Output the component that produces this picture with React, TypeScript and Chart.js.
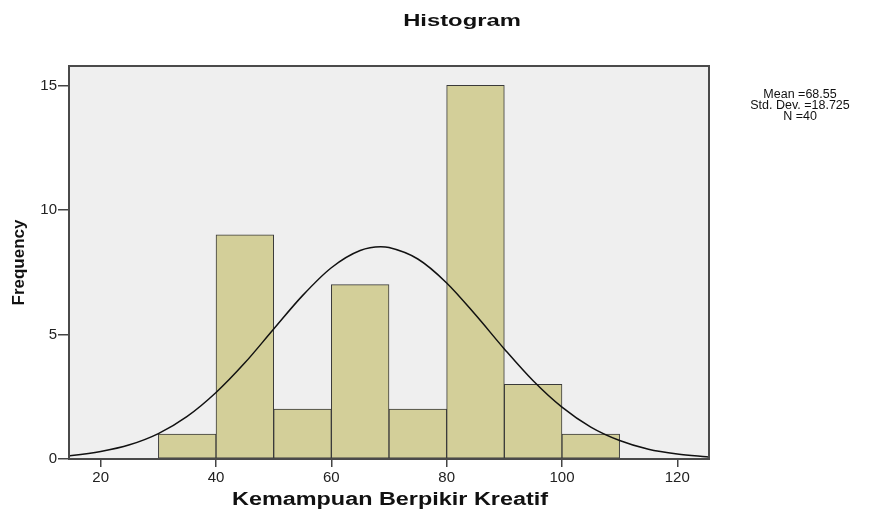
import React, { useEffect, useRef } from "react";
import { Chart, registerables } from "chart.js";

Chart.register(...registerables);

const BIN_CENTERS = [35, 45, 55, 65, 75, 85, 95, 105];
const FREQUENCIES = [1, 9, 2, 7, 2, 15, 3, 1];
const CURVE_X = [14.5, 15, 20, 25, 30, 35, 40, 45, 50, 55, 60, 65, 68.55, 70, 75, 80, 85, 90, 95, 100, 105, 110, 115, 120, 125, 125.5];
const CURVE_Y = [0.13, 0.14, 0.3, 0.57, 1.02, 1.71, 2.67, 3.86, 5.22, 6.56, 7.68, 8.37, 8.52, 8.49, 8.03, 7.07, 5.79, 4.42, 3.14, 2.08, 1.28, 0.74, 0.39, 0.2, 0.09, 0.08];
const X_TICKS = [20, 40, 60, 80, 100, 120];
const Y_TICKS = [0, 5, 10, 15];
const STATS_LINES = ["Mean =68.55", "Std. Dev. =18.725", "N =40"];
const TITLE = "Histogram";
const X_TITLE = "Kemampuan Berpikir Kreatif";
const Y_TITLE = "Frequency";

const FONT = "'Liberation Sans', Arial, sans-serif";

function drawText(ctx: CanvasRenderingContext2D, text: string, cx: number, cy: number, font: string, sx: number, rot = 0) {
  ctx.save();
  ctx.translate(cx, cy);
  if (rot) ctx.rotate(rot);
  ctx.scale(sx, 1);
  ctx.font = font;
  ctx.fillStyle = "#111";
  ctx.textAlign = "center";
  ctx.textBaseline = "middle";
  ctx.fillText(text, 0, 0);
  ctx.restore();
}

const decoPlugin = {
  id: "deco",
  beforeDatasetsDraw(chart: any) {
    const { ctx, chartArea } = chart;
    const { left, top, right, bottom } = chartArea;
    ctx.save();
    ctx.fillStyle = "#efefef";
    ctx.fillRect(left, top, right - left, bottom - top);
    ctx.restore();
  },
  afterDatasetsDraw(chart: any) {
    const { ctx, chartArea } = chart;
    const { left, top, right, bottom } = chartArea;
    ctx.save();
    ctx.strokeStyle = "#4a4a4a";
    ctx.lineWidth = 2;
    ctx.strokeRect(left, top, right - left, bottom - top);
    ctx.restore();
  },
  afterDraw(chart: any) {
    const { ctx, chartArea } = chart;
    drawText(ctx, TITLE, 462, 21, `bold 17px ${FONT}`, 1.4);
    drawText(ctx, X_TITLE, (chartArea.left + chartArea.right) / 2 + 1, 500, `bold 18px ${FONT}`, 1.3);
    drawText(ctx, Y_TITLE, 19, (chartArea.top + chartArea.bottom) / 2, `bold 17px ${FONT}`, 1, -Math.PI / 2);
    STATS_LINES.forEach((line, i) => {
      drawText(ctx, line, 800, 95 + i * 11, `12.5px ${FONT}`, 1);
    });
  },
};

export default function App() {
  const ref = useRef<HTMLCanvasElement | null>(null);

  useEffect(() => {
    if (!ref.current) return;
    const chart = new Chart(ref.current, {
      type: "bar",
      data: {
        datasets: [
          {
            type: "line",
            label: "Normal",
            data: CURVE_X.map((x, i) => ({ x, y: CURVE_Y[i] })),
            borderColor: "#111",
            borderWidth: 1.5,
            pointRadius: 0,
            fill: false,
            cubicInterpolationMode: "monotone",
            order: 0,
          } as any,
          {
            type: "bar",
            label: "Frequency",
            data: BIN_CENTERS.map((x, i) => ({ x, y: FREQUENCIES[i] })),
            backgroundColor: "#d3cf99",
            borderColor: "#3a3a3a",
            borderWidth: 1,
            borderSkipped: false,
            barPercentage: 1,
            categoryPercentage: 1,
            order: 1,
          } as any,
        ],
      },
      options: {
        responsive: false,
        animation: false,
        layout: { padding: { left: 0, right: 181, top: 66, bottom: 0 } },
        plugins: {
          legend: { display: false },
          tooltip: { enabled: false },
          title: { display: false },
        },
        scales: {
          x: {
            type: "linear",
            offset: false,
            min: 14.5,
            max: 125.5,
            afterBuildTicks: (s: any) => {
              s.ticks = X_TICKS.map((v) => ({ value: v }));
            },
            afterFit: (s: any) => {
              s.height = 52;
            },
            ticks: {
              font: { family: FONT, size: 15 },
              color: "#222",
              padding: 2,
              maxRotation: 0,
              autoSkip: false,
            },
            grid: {
              offset: false,
              drawOnChartArea: false,
              drawTicks: true,
              tickLength: 8,
              color: "#444",
              lineWidth: 1.5,
            },
            border: { display: false },
          },
          y: {
            type: "linear",
            min: 0,
            max: 15.78,
            afterBuildTicks: (s: any) => {
              s.ticks = Y_TICKS.map((v) => ({ value: v }));
            },
            afterFit: (s: any) => {
              s.width = 69;
            },
            ticks: {
              font: { family: FONT, size: 15 },
              color: "#222",
              padding: 1,
            },
            grid: {
              drawOnChartArea: false,
              drawTicks: true,
              tickLength: 11,
              color: "#444",
              lineWidth: 1.5,
            },
            border: { display: false },
          },
        },
      } as any,
      plugins: [decoPlugin],
    });
    return () => chart.destroy();
  }, []);

  return (
    <div style={{ position: "absolute", left: 0, top: 0, width: 890, height: 511, background: "#fff" }}>
      <canvas ref={ref} width={890} height={511} style={{ display: "block" }} />
    </div>
  );
}
